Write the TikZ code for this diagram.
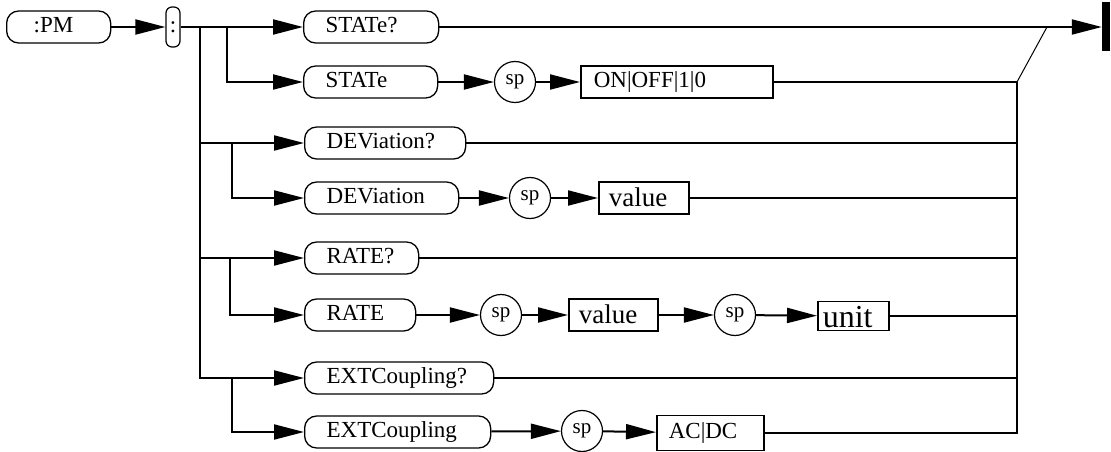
\documentclass[tikz,border=0pt]{standalone}
\usepackage{fontspec}
\setmainfont{Liberation Serif}
\usetikzlibrary{arrows.meta}
\begin{document}
\begin{tikzpicture}[x=1pt,y=-1pt,
  lbl/.style={font=\fontsize{23}{24}\selectfont, text height=16pt, text depth=5pt},
  pill/.style={lbl, draw, line width=1.3pt, rounded corners=12pt, anchor=west, minimum height=32pt, inner ysep=0pt, inner xsep=22pt, align=left},
  valbox/.style={lbl, draw, line width=1.6pt, anchor=west, minimum height=32pt, inner ysep=0pt, inner xsep=10pt, align=left},
  bigval/.style={font=\fontsize{27}{28}\selectfont, text height=20pt, text depth=4pt},
  unitval/.style={font=\fontsize{32}{33}\selectfont, text height=26pt, text depth=2.6pt},
  spc/.style={draw, circle, line width=1.2pt, minimum size=41pt, inner sep=0pt, font=\fontsize{21}{22}\selectfont},
  conn/.style={line width=2pt},
  arr/.style={conn, -{Triangle[length=30pt,width=15pt]}},
]
\useasboundingbox (0,0) rectangle (1111,452);

% nodes
\node[pill, inner xsep=27pt, text width=50pt] (pm) at (6,27) {:PM};
\node[lbl, draw, rounded corners=6pt, line width=1.2pt, minimum width=14pt, minimum height=40pt, inner sep=0pt] (col) at (173,27) {:};
\node[fill, minimum width=8pt, minimum height=49pt, inner sep=0pt] (bar) at (1106,27) {};

\node[pill, text width=91pt] (s1) at (303,27) {STATe?};
\node[pill, text width=90pt] (s2) at (303,82) {STATe};
\node[spc] (sp1) at (515,82) {sp};
\node[valbox, inner xsep=13pt, text width=166pt] (s2v) at (580,82) {ON|OFF|1|0};

\node[pill, text width=117pt] (d1) at (304,143) {DEViation?};
\node[pill, text width=110pt] (d2) at (304,198) {DEViation};
\node[spc] (sp2) at (530,198) {sp};
\node[valbox, bigval, text width=70pt] (d2v) at (598,198) {value};

\node[pill, text width=70pt] (r1) at (304,258) {RATE?};
\node[pill, text width=67pt] (r2) at (304,315) {RATE};
\node[spc] (sp3) at (501,315) {sp};
\node[valbox, bigval, text width=69pt] (r2v) at (568,315) {value};
\node[spc] (sp4) at (735,315) {sp};
\node[valbox, unitval, inner xsep=5pt, text width=61pt, minimum height=29pt] (r2u) at (817,316) {unit};

\node[pill, text width=145pt] (e1) at (304,378) {EXTCoupling?};
\node[pill, text width=142pt] (e2) at (304,432) {EXTCoupling};
\node[spc] (sp5) at (582,431) {sp};
\node[valbox, inner xsep=12pt, text width=83pt, minimum height=35pt] (e2v) at (656,433) {AC|DC};

% junction coordinates
\coordinate (t0) at (200,27);
\coordinate (b0) at (227,27);
\coordinate (t1) at (200,143);
\coordinate (b1) at (232,143);
\coordinate (t2) at (200,258);
\coordinate (b2) at (230,258);
\coordinate (b3) at (232,378);
\coordinate (c2) at (1017,82);
\coordinate (c3) at (1017,143);
\coordinate (c4) at (1017,198);
\coordinate (c5) at (1017,258);
\coordinate (c6) at (1017,316);
\coordinate (c7) at (1017,378);
\coordinate (dg) at (1047,27);

% connectors
\draw[arr] (pm) -- (col);
\draw[arr] (col) -- (s1);
\draw[arr] (s1) -- (bar);
\draw[arr] (t0) |- (e1);
\draw[arr] (b0) |- (s2);
\draw[arr] (s2) -- (sp1);
\draw[arr] (sp1) -- (s2v);
\draw[conn] (s2v) -- (c2);
\draw[line width=1pt] (c2) -- (dg);

\draw[arr] (t1) -- (d1);
\draw[arr] (b1) |- (d2);
\draw[arr] (d2) -- (sp2);
\draw[arr] (sp2) -- (d2v);
\draw[conn] (d1) -- (c3);
\draw[conn] (d2v) -- (c4);

\draw[arr] (t2) -- (r1);
\draw[arr] (b2) |- (r2);
\draw[arr] (r2) -- (sp3);
\draw[arr] (sp3) -- (r2v);
\draw[arr] (r2v) -- (sp4);
\draw[arr] (sp4) -- (r2u);
\draw[conn] (r1) -- (c5);
\draw[conn] (r2u) -- (c6);

\draw[arr] (b3) |- (e2);
\draw[arr] (e2) -- (sp5);
\draw[arr] (sp5) -- (e2v);
\draw[conn] (e1) -- (c7);
\draw[conn] (e2v) -| (c2);
\end{tikzpicture}
\end{document}
